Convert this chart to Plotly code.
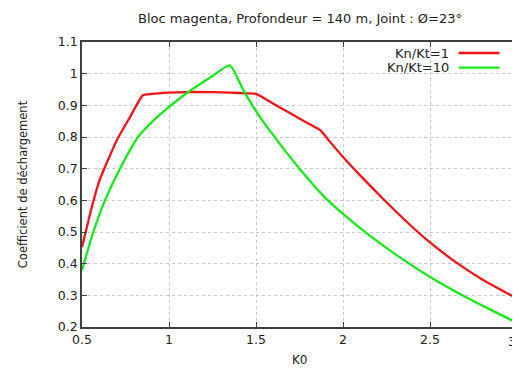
import plotly.graph_objects as go

# ---- data ----
k0_red = [0.5, 0.55, 0.6, 0.7, 0.775, 0.85, 0.9, 1.0, 1.1, 1.2, 1.3, 1.4, 1.5,
          1.6, 1.7, 1.8, 1.871, 1.922, 2.0, 2.1, 2.25, 2.4, 2.5, 2.65, 2.8, 3.0]
cd_red = [0.452, 0.565, 0.662, 0.790, 0.862, 0.932, 0.936, 0.940, 0.942, 0.942, 0.941, 0.939, 0.936,
          0.905, 0.874, 0.843, 0.821, 0.787, 0.737, 0.678, 0.594, 0.515, 0.467, 0.404, 0.350, 0.290]

k0_green = [0.5, 0.565, 0.632, 0.718, 0.822, 0.9, 1.0, 1.111, 1.235, 1.35,
            1.43, 1.5, 1.6, 1.75, 1.9, 2.0, 2.15, 2.3, 2.5, 2.724, 2.85, 3.0]
cd_green = [0.38, 0.50, 0.60, 0.70, 0.80, 0.846, 0.895, 0.942, 0.987, 1.026,
            0.945, 0.882, 0.805, 0.70, 0.607, 0.557, 0.490, 0.430, 0.358, 0.289, 0.254, 0.213]

series_names = ["Kn/Kt=1", "Kn/Kt=10"]
series_colors = ["#f01414", "#18e818"]

x_ticks = [0.5, 1, 1.5, 2, 2.5, 3]
x_tick_labels = ["0.5", "1", "1.5", "2", "2.5", "3"]
y_ticks = [0.2, 0.3, 0.4, 0.5, 0.6, 0.7, 0.8, 0.9, 1.0, 1.1]
y_tick_labels = ["0.2", "0.3", "0.4", "0.5", "0.6", "0.7", "0.8", "0.9", "1", "1.1"]

title_text = "Bloc magenta, Profondeur = 140 m, Joint : Ø=23°"
x_title = "K0"
y_title = "Coefficient de déchargement"

FONT = "DejaVu Sans, Verdana, sans-serif"
TXT = "#222222"

fig = go.Figure()
for xs, ys, name, col in [(k0_red, cd_red, series_names[0], series_colors[0]),
                          (k0_green, cd_green, series_names[1], series_colors[1])]:
    fig.add_trace(go.Scatter(x=xs, y=ys, mode="lines", name=name,
                             line=dict(color=col, width=2.3, shape="spline", smoothing=0.5),
                             showlegend=False))

axis_common = dict(
    showline=True, linecolor="#404040", linewidth=1.6, mirror="allticks",
    ticks="inside", ticklen=5, tickcolor="#404040", tickwidth=1.2,
    showgrid=True, gridcolor="#c8c8c8", griddash="dot", gridwidth=1,
    zeroline=False, automargin=False, tickfont=dict(family=FONT, size=12.5, color=TXT),
)

# the last x label sits at the page edge (Plotly would drop it); it is added below as text
fig.update_xaxes(range=[0.5, 3], tickvals=x_ticks, ticktext=x_tick_labels[:-1] + [""], **axis_common)
fig.update_yaxes(range=[0.2, 1.1], tickvals=y_ticks, ticktext=y_tick_labels,
                 title=dict(text=y_title, font=dict(family=FONT, size=11.5, color=TXT), standoff=28),
                 **axis_common)

# page has an 8px body margin: figure coordinates = page coordinates - 8
OFF = 8
W, H = 512, 361
ml, mt = 82 - OFF, 42 - OFF
plot_right, plot_bottom = 517.5 - OFF, 326.7 - OFF
mr, mb = W - plot_right, H - plot_bottom
pw, ph = W - ml - mr, H - mt - mb

def px_to_paper_x(px):
    return (px - OFF - ml) / pw

def px_to_paper_y(py):
    return 1 - (py - OFF - mt) / ph

annotations = []
shapes = []
# gnuplot-style key: text right-aligned, line sample to its right
legend_rows_y = [53, 67.5]
for name, col, py in zip(series_names, series_colors, legend_rows_y):
    annotations.append(dict(text=name, xref="paper", yref="paper",
                            x=px_to_paper_x(451), y=px_to_paper_y(py),
                            xanchor="right", yanchor="middle", showarrow=False,
                            font=dict(family=FONT, size=13, color=TXT)))
    shapes.append(dict(type="line", xref="paper", yref="paper",
                       x0=px_to_paper_x(459), x1=px_to_paper_x(500),
                       y0=px_to_paper_y(py), y1=px_to_paper_y(py),
                       line=dict(color=col, width=2.3)))

annotations.append(dict(text=x_tick_labels[-1], xref="x", yref="paper",
                        x=x_ticks[-1], y=px_to_paper_y(341), xanchor="right", yanchor="middle",
                        xshift=1, showarrow=False, font=dict(family=FONT, size=12.5, color=TXT)))

# x-axis title placed low, as in the reference
annotations.append(dict(text=x_title, xref="paper", yref="paper",
                        x=px_to_paper_x(300), y=px_to_paper_y(360), xanchor="center", yanchor="middle",
                        showarrow=False, font=dict(family=FONT, size=12, color=TXT)))

fig.update_layout(
    width=W, height=H,
    margin=dict(l=ml, r=mr, t=mt, b=mb),
    paper_bgcolor="white", plot_bgcolor="white",
    title=dict(text=title_text, x=(300 - OFF) / W, xanchor="center",
               y=1 - (18 - OFF) / H, yanchor="middle",
               font=dict(family=FONT, size=13, color=TXT)),
    annotations=annotations, shapes=shapes,
    showlegend=False,
)

fig.write_html("out.html")
